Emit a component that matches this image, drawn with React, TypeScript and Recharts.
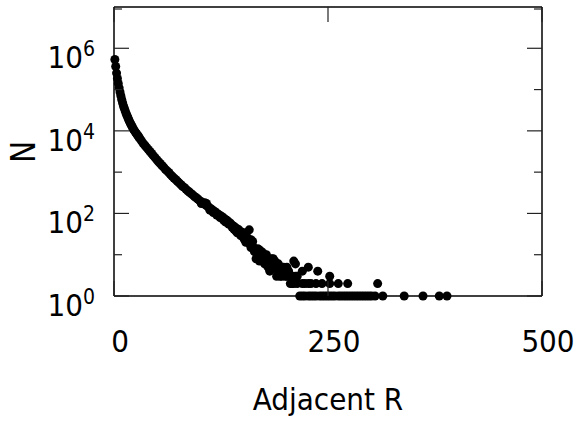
import { ScatterChart, Scatter, XAxis, YAxis, ZAxis } from "recharts";

const FONT = "'DejaVu Sans Condensed', 'DejaVu Sans', sans-serif";

// main smooth part of the curve
const headR = [
  1, 2, 3, 4, 5, 6, 7, 8, 9, 10, 11, 12, 13, 14, 15, 16, 17, 18, 19, 20, 21,
  22, 23, 24, 25, 26, 27, 28, 29, 30, 32, 34, 36, 38, 40, 42, 44, 46, 48, 50,
  52, 54, 56, 58, 60, 62, 64, 66, 68, 70, 72, 74, 76, 78, 80, 82, 84, 86, 88,
  90, 92, 94, 96, 98, 100,
];
const headN = [
  537000, 363000, 251000, 186000, 141000, 110000, 87100, 70800, 57500, 47900,
  40700, 35500, 30900, 26900, 24000, 21400, 19100, 17000, 15500, 14100, 12900,
  11700, 10700, 10000, 9330, 8710, 8130, 7590, 7080, 6610, 5750, 5010, 4470,
  3980, 3550, 3160, 2820, 2510, 2240, 2000, 1780, 1620, 1450, 1320, 1170, 1070,
  977, 871, 794, 724, 661, 603, 550, 501, 457, 427, 389, 355, 331, 302, 282,
  257, 240, 224, 204,
];

// scattered tail
const midR = [
  102, 102, 104, 106, 106, 108, 108, 110, 112, 112, 114, 116, 116, 118, 120,
  120, 122, 124, 124, 126, 128, 128, 130, 130, 132, 134, 134, 136, 138, 138,
  140, 140, 142, 142, 144, 146, 146, 148, 148, 150, 152, 152, 154, 154, 156,
  158, 158, 160, 160, 162, 162, 164, 164, 166, 166, 168, 170, 170, 172, 172,
  174, 174, 176, 176, 178, 178, 180, 180, 182, 182, 184, 184, 186, 188, 188,
  190, 190, 192, 192, 194, 194, 196, 196, 198, 200, 200, 202, 202, 204, 206,
  206, 208, 208, 210, 210, 212, 212, 214, 214, 220, 220, 223, 227, 227, 230,
  236, 238, 243, 252, 252, 262, 273, 308,
  132, 144, 150, 156, 160, 168, 170, 186, 198,
];
const midN = [
  191, 174, 178, 166, 182, 155, 174, 145, 135, 120, 126, 117, 105, 110, 102,
  91, 95, 89, 79, 83, 78, 69, 72, 63, 68, 62, 55, 58, 52, 46,
  49, 42, 45, 38, 42, 36, 40, 33, 29, 30, 27, 24, 25, 20, 22,
  40, 19, 18, 15, 16, 21, 14, 12, 13, 8, 11, 10, 7, 12, 9,
  9, 11, 8, 6, 7, 10, 5, 8, 7, 4, 8, 6, 6, 5, 7,
  3, 6, 6, 4, 5, 3, 3, 4, 5, 3, 4, 5, 3, 4, 3,
  2, 2, 3, 7, 2, 3, 6, 2, 3, 2, 4, 2, 5, 2, 2,
  2, 4, 2, 2, 3, 2, 2, 2,
  60, 34, 35, 26, 23, 14, 13, 8, 4,
];

// single counts along the bottom
const onesR = [
  217, 220, 223, 227, 230, 233, 236, 240, 243, 246, 249, 252, 255, 258, 262,
  265, 268, 271, 274, 277, 280, 283, 286, 289, 292, 295, 298, 301, 305, 314,
  339, 361, 380, 389,
];

const yTicks = [1, 10, 100, 1000, 10000, 100000, 1000000, 10000000];
const xTicks = [0, 250, 500];

const data = [
  ...headR.map((r, i) => ({ r, n: headN[i] })),
  ...midR.map((r, i) => ({ r, n: midN[i] })),
  ...onesR.map((r) => ({ r, n: 1 })),
];

function LeftTick(props: any) {
  const { x, y, payload } = props;
  const exp = Math.round(Math.log10(payload.value));
  const major = exp % 2 === 0;
  return (
    <g>
      <line x1={x} y1={y} x2={x + (major ? 15 : 8)} y2={y} stroke="#222" strokeWidth={1.2} />
      {major && exp < 7 && (
        <text x={x - 19} y={y + 20} textAnchor="end" fontSize={31} fontFamily={FONT} fill="#000">
          10<tspan dy={-12} fontSize={21}>{exp}</tspan>
        </text>
      )}
    </g>
  );
}

function RightTick(props: any) {
  const { x, y, payload } = props;
  const exp = Math.round(Math.log10(payload.value));
  const len = exp % 2 === 0 ? 15 : 8;
  return <line x1={x} y1={y} x2={x - len} y2={y} stroke="#222" strokeWidth={1.2} />;
}

function BottomTick(props: any) {
  const { x, y, payload } = props;
  return (
    <g>
      <line x1={x} y1={y} x2={x} y2={y - 15} stroke="#222" strokeWidth={1.2} />
      <text x={x + 6} y={y + 56} textAnchor="middle" fontSize={31} fontFamily={FONT} fill="#000">
        {payload.value}
      </text>
    </g>
  );
}

function TopTick(props: any) {
  const { x, y } = props;
  return <line x1={x} y1={y} x2={x} y2={y + 15} stroke="#222" strokeWidth={1.2} />;
}

const axisLine = { stroke: "#000", strokeWidth: 1.5 };

export default function App() {
  return (
    <div style={{ position: "absolute", left: 0, top: 0, background: "#fff" }}>
      <ScatterChart width={577} height={423} margin={{ top: 6, right: 0, bottom: 0, left: 0 }}>
        <XAxis
          xAxisId="b"
          dataKey="r"
          type="number"
          domain={[0, 500]}
          ticks={xTicks}
          height={127}
          axisLine={axisLine}
          tickLine={false}
          tickSize={0}
          tickMargin={0}
          tick={<BottomTick />}
          label={{
            value: "Adjacent R",
            position: "insideBottom",
            offset: 13,
            fontSize: 31,
            fill: "#000",
            fontFamily: FONT,
          }}
        />
        <XAxis
          xAxisId="t"
          dataKey="r"
          type="number"
          orientation="top"
          domain={[0, 500]}
          ticks={xTicks}
          height={1}
          axisLine={axisLine}
          tickLine={false}
          tickSize={0}
          tickMargin={0}
          tick={<TopTick />}
        />
        <YAxis
          yAxisId="l"
          dataKey="n"
          type="number"
          scale="log"
          domain={[1, 10000000]}
          ticks={yTicks}
          width={114}
          axisLine={axisLine}
          tickLine={false}
          tickSize={0}
          tickMargin={0}
          tick={<LeftTick />}
          label={{
            content: () => (
              <text
                x={35}
                y={152}
                transform="rotate(-90 35 152)"
                textAnchor="middle"
                fontSize={33}
                fontFamily={FONT}
                fill="#000"
              >
                N
              </text>
            ),
          }}
        />
        <YAxis
          yAxisId="r"
          dataKey="n"
          type="number"
          orientation="right"
          scale="log"
          domain={[1, 10000000]}
          ticks={yTicks}
          width={35}
          axisLine={axisLine}
          tickLine={false}
          tickSize={0}
          tickMargin={0}
          tick={<RightTick />}
        />
        <ZAxis range={[38, 38]} />
        <Scatter
          data={data}
          xAxisId="t"
          yAxisId="r"
          fill="#000"
          fillOpacity={0}
          isAnimationActive={false}
        />
        <Scatter
          data={data}
          xAxisId="b"
          yAxisId="l"
          fill="#000"
          shape="circle"
          isAnimationActive={false}
        />
      </ScatterChart>
    </div>
  );
}
